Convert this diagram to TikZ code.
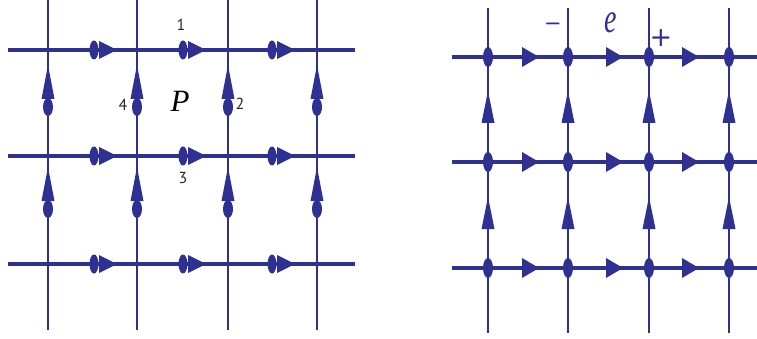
\documentclass[tikz,border=0pt]{standalone}
\usepackage{fontspec}
\usepackage{graphicx}
\newfontfamily\digfont{PT Sans}
\newfontfamily\itfont{Liberation Serif}
\newfontfamily\signfont{DejaVu Sans}
\definecolor{latblue}{RGB}{46,49,146}
\tikzset{
  hline/.style={draw=latblue, line width=3.4pt},
  vline/.style={draw=latblue, line width=2.6pt},
  hmark/.pic={\fill[latblue] (0,0) ellipse (4.5pt and 9.5pt);
              \fill[latblue] (5,-9) -- (23,0) -- (5,9) -- cycle;},
  vmark/.pic={\fill[latblue] (0,0) ellipse (5pt and 9pt);
              \fill[latblue] (-6.5,-8) -- (0,-42) -- (6.5,-8) -- cycle;},
  dotmark/.pic={\fill[latblue] (0,0) ellipse (5pt and 10pt);},
  harr/.pic={\fill[latblue] (0,-10) -- (17,0) -- (0,10) -- cycle;},
  varr/.pic={\fill[latblue] (-6.5,0) -- (0,-32) -- (6.5,0) -- cycle;},
  numlabel/.style={text=black!85, font=\digfont\fontsize{16}{16}\selectfont, inner sep=0pt},
  signlabel/.style={text=latblue, font=\signfont\fontsize{21}{21}\selectfont, inner sep=0pt},
}
\begin{document}
\begin{tikzpicture}[x=1pt,y=-1pt]
\useasboundingbox (0,0) rectangle (757,339);
% ---------- left panel ----------
\foreach \i/\x in {1/48,2/137,3/228,4/317}{
  \coordinate (LT\i) at (\x,0);
  \coordinate (LB\i) at (\x,330);
  \draw[vline] (LT\i) -- (LB\i);
}
\foreach \j/\y in {1/50,2/156,3/264}{
  \coordinate (LL\j) at (8,\y);
  \coordinate (LR\j) at (355,\y);
  \draw[hline] (LL\j) -- (LR\j);
}
\foreach \y in {50,156,264}{
  \foreach \x in {94,183,272}{
    \pic at (\x,\y) {hmark};
  }
}
\foreach \x in {48,137,228,317}{
  \pic at (\x,107) {vmark};
  \pic at (\x,209) {vmark};
}
\node[numlabel] (n1) at (181,25) {1};
\node[numlabel] (n4) at (123,105) {4};
\node[numlabel] (n2) at (240,104) {2};
\node[numlabel] (n3) at (183,178) {3};
\node[inner sep=0pt] (P) at (180,101) {\itfont\itshape\fontsize{31}{31}\selectfont P};
% ---------- right panel ----------
\foreach \i/\x in {1/488,2/568,3/649,4/729}{
  \coordinate (RT\i) at (\x,8);
  \coordinate (RB\i) at (\x,333);
  \draw[vline] (RT\i) -- (RB\i);
}
\foreach \j/\y in {1/57,2/162,3/268}{
  \coordinate (RL\j) at (452,\y);
  \coordinate (RR\j) at (757,\y);
  \draw[hline] (RL\j) -- (RR\j);
}
\foreach \y in {57,162,268}{
  \foreach \x in {488,568,649,729}{
    \pic at (\x,\y) {dotmark};
  }
}
\foreach \y in {57,162,268}{
  \foreach \x in {522,606,682}{
    \pic at (\x,\y) {harr};
  }
}
\foreach \x in {488,568,649,729}{
  \pic at (\x,123) {varr};
  \pic at (\x,229) {varr};
}
\node[signlabel] (minus) at (553,27) {−};
\node[signlabel, font=\signfont\fontsize{27}{27}\selectfont] (plus) at (661,38) {+};
\node[text=latblue, inner sep=0pt] (e) at (611,23) {\scalebox{1}[1.5]{\itfont\itshape\fontsize{28}{28}\selectfont e}};
\end{tikzpicture}
\end{document}
